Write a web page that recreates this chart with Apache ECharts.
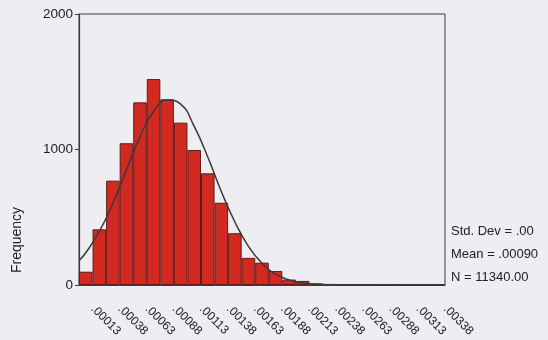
<!DOCTYPE html>
<html><head><meta charset="utf-8">
<script src="https://cdn.jsdelivr.net/npm/echarts@6/dist/echarts.min.js"></script>
<style>html,body{margin:0;padding:0;background:#ededf2;}#c{width:548px;height:340px;}</style>
</head><body><div id="c"></div>
<script>
var binLabels = [".00013",".00025",".00038",".00050",".00063",".00075",".00088",".00100",".00113",".00125",".00138",".00150",".00163",".00175",".00188",".00200",".00213",".00225",".00238",".00250",".00263",".00275",".00288",".00300",".00313",".00325",".00338"];
var frequencies = [98,411,770,1046,1348,1520,1370,1198,996,824,607,382,200,165,103,40,30,12,8,4,3,2,1,2,1,0,1];
var curveX = [0.0000625,0.000125,0.00025,0.000375,0.0005,0.000625,0.00075,0.000875,0.001,0.001125,0.00125,0.001375,0.0015,0.001625,0.00175,0.001875,0.002,0.002125,0.00225,0.002375,0.0025,0.003,0.0034375];
var curveY = [180,238,395,605,850,1095,1280,1365,1335,1170,945,690,465,285,160,80,37,15,6,2,1,0,0];
var yTicks = [0,1000,2000];
var statsLines = ["Std. Dev = .00","Mean = .00090","N = 11340.00"];
var yTitle = "Frequency";

var font = "'Liberation Sans', Arial, sans-serif";
var chart = echarts.init(document.getElementById('c'), null, {renderer:'canvas'});
var curveData = curveX.map(function(x,i){return [x, curveY[i]];});
var graphics = [{
  type:'text', x:17, y:240, rotation:Math.PI/2,
  style:{text:yTitle, font:'14px '+font, fill:'#222', align:'center', verticalAlign:'middle'}
}];
statsLines.forEach(function(t,i){
  graphics.push({type:'text', x:451, y:231+i*23, style:{text:t, font:'13px '+font, fill:'#222', align:'left', verticalAlign:'middle'}});
});
chart.setOption({
  backgroundColor:'#ededf2',
  animation:false,
  grid:{left:79, right:103, top:14, bottom:55, show:true, borderColor:'#3c3c3c', borderWidth:1, backgroundColor:'transparent'},
  xAxis:[{
    type:'category', data:binLabels, boundaryGap:true,
    axisLine:{lineStyle:{color:'#3c3c3c', width:1.2}},
    axisTick:{interval:1, alignWithLabel:true, length:4, lineStyle:{color:'#3c3c3c'}},
    axisLabel:{interval:1, rotate:-45, color:'#222', fontFamily:font, fontSize:12, margin:15, padding:[0,0,0,10]},
    splitLine:{show:false}
  },{
    type:'value', min:0.0000625, max:0.0034375, show:false
  }],
  yAxis:{
    type:'value', min:yTicks[0], max:yTicks[yTicks.length-1], interval:1000,
    axisLine:{show:true, lineStyle:{color:'#3c3c3c', width:1.2}},
    axisTick:{show:true, length:4, lineStyle:{color:'#3c3c3c'}},
    axisLabel:{color:'#222', fontFamily:font, fontSize:13.5, margin:6, formatter:function(v){return String(v);}},
    splitLine:{show:false}
  },
  series:[{
    type:'bar', data:frequencies, barCategoryGap:'0%', xAxisIndex:0,
    itemStyle:{color:'#d22a20', borderColor:'#5a1c1c', borderWidth:1}
  },{
    type:'line', data:curveData, xAxisIndex:1, smooth:true, showSymbol:false,
    lineStyle:{color:'#3a3a3a', width:1.5}
  }],
  graphic:graphics
});
</script></body></html>
